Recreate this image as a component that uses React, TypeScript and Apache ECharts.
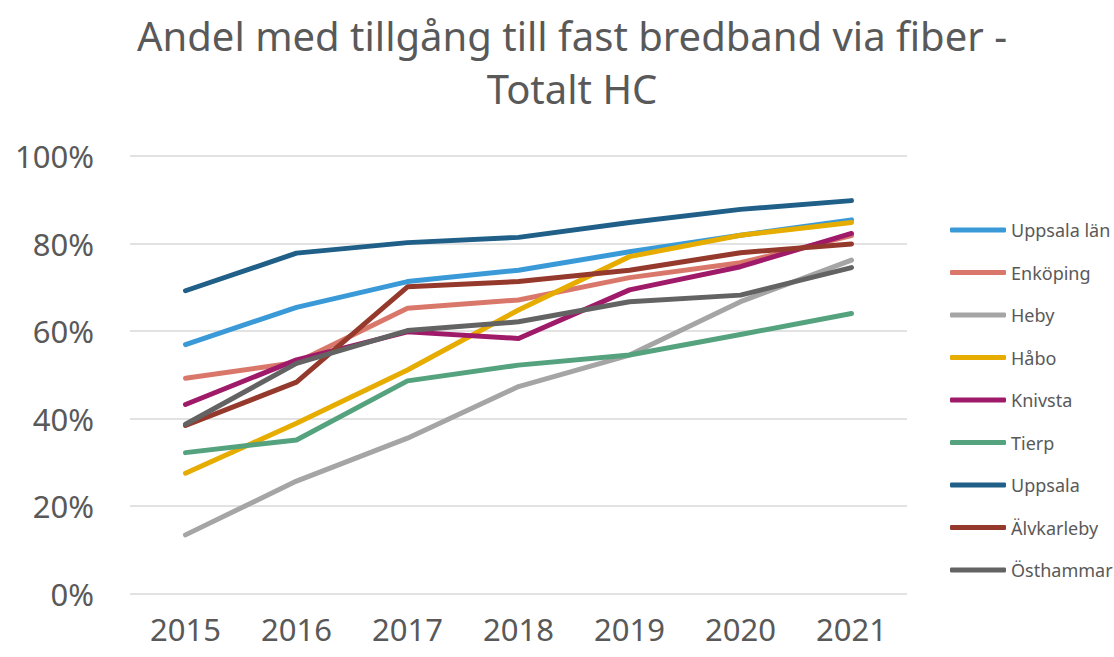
import React, { useEffect, useRef } from "react";
import * as echarts from "echarts";

const years = ["2015", "2016", "2017", "2018", "2019", "2020", "2021"];
const seriesNames = ["Uppsala län", "Enköping", "Heby", "Håbo", "Knivsta", "Tierp", "Uppsala", "Älvkarleby", "Östhammar"];
const uppsalaLan = [56.9, 65.4, 71.3, 73.9, 78.1, 81.9, 85.4];
const enkoping = [49.2, 52.8, 65.2, 67.1, 72.2, 75.6, 81.8];
const heby = [13.4, 25.7, 35.5, 47.3, 54.5, 66.7, 76.2];
const habo = [27.5, 38.9, 51.1, 64.8, 77.0, 81.9, 84.8];
const knivsta = [43.2, 53.4, 59.8, 58.3, 69.4, 74.7, 82.3];
const tierp = [32.2, 35.1, 48.6, 52.2, 54.5, 59.2, 64.0];
const uppsala = [69.2, 77.8, 80.2, 81.4, 84.8, 87.8, 89.8];
const alvkarleby = [38.4, 48.3, 70.1, 71.3, 73.9, 77.9, 79.9];
const osthammar = [38.7, 52.6, 60.1, 62.1, 66.7, 68.2, 74.5];
const seriesValues = [uppsalaLan, enkoping, heby, habo, knivsta, tierp, uppsala, alvkarleby, osthammar];
const colors = ["#3A9AD8", "#D9786A", "#A5A5A5", "#E6AC00", "#A01A6A", "#55A27F", "#1F5F88", "#95392C", "#636363"];
const yTicks = [0, 20, 40, 60, 80, 100];

const FONT = "'Noto Sans', sans-serif";

export default function App() {
  const ref = useRef<HTMLDivElement>(null);
  useEffect(() => {
    document.body.style.margin = "0";
    const chart = echarts.init(ref.current!, null, { renderer: "svg" });
    chart.setOption({
      animation: false,
      textStyle: { fontFamily: FONT },
      title: {
        text: "Andel med tillgång till fast bredband via fiber -\nTotalt HC",
        left: 567,
        top: 4,
        textAlign: "center",
        textStyle: { fontSize: 40, fontWeight: "normal", color: "#595959", lineHeight: 53, fontFamily: FONT, align: "center" },
      },
      legend: {
        orient: "vertical",
        left: 945,
        top: 215,
        icon: "roundRect",
        itemWidth: 56,
        itemHeight: 5,
        itemGap: 22.5,
        data: seriesNames,
        textStyle: { fontSize: 18, color: "#595959", lineHeight: 20, fontFamily: FONT },
      },
      grid: { left: 130, right: 207, top: 156, bottom: 63.5, containLabel: false },
      xAxis: {
        type: "category",
        data: years,
        boundaryGap: true,
        axisLine: { show: false },
        axisTick: { show: false },
        axisLabel: { fontSize: 31, color: "#595959", margin: 20, fontFamily: FONT },
      },
      yAxis: {
        type: "value",
        min: 0,
        max: 100,
        interval: 20,
        axisLine: { show: false },
        axisTick: { show: false },
        splitLine: { lineStyle: { color: "#D9D9D9", width: 1.5 } },
        axisLabel: {
          fontSize: 31,
          color: "#595959",
          margin: 36,
          fontFamily: FONT,
          formatter: (v: number) => (yTicks.includes(v) ? v + "%" : ""),
        },
      },
      series: seriesNames.map((name, i) => ({
        name,
        type: "line",
        data: seriesValues[i],
        symbol: "none",
        color: colors[i],
        lineStyle: { width: 5, color: colors[i], cap: "round", join: "round" },
      })),
    });
    return () => chart.dispose();
  }, []);
  return <div ref={ref} style={{ width: 1114, height: 657 }} />;
}
